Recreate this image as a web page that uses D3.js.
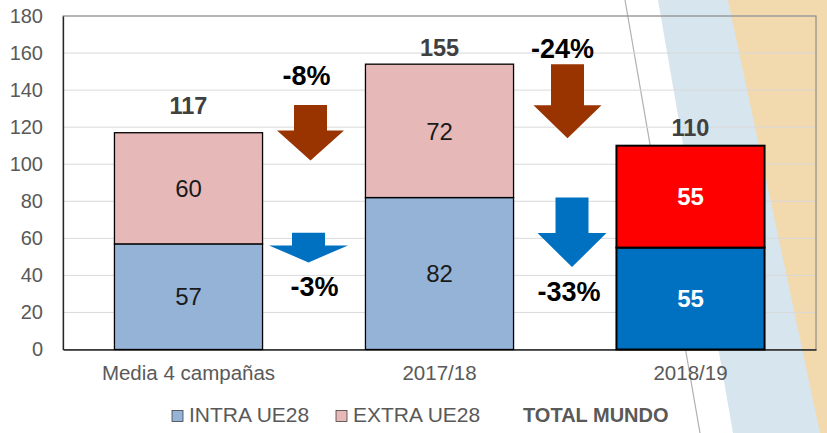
<!DOCTYPE html>
<html>
<head>
<meta charset="utf-8">
<script src="https://cdn.jsdelivr.net/npm/d3@7"></script>
<style>
  body { margin: 0; background: #fff; }
  svg { display: block; font-family: "Liberation Sans", Arial, sans-serif; }
</style>
</head>
<body>
<svg id="chart" width="827" height="433"></svg>
<script>
// data
const categories = ["Media 4 campañas", "2017/18", "2018/19"];
const intraValues = [57, 82, 55];
const extraValues = [60, 72, 55];
const totalValues = [117, 155, 110];
const yTicks = [0, 20, 40, 60, 80, 100, 120, 140, 160, 180];
const legendLabels = ["INTRA UE28", "EXTRA UE28", "TOTAL MUNDO"];

// change arrows between campaigns (values in chart units)
const changeLabels = ["-8%", "-3%", "-24%", "-33%"];
const changeFrom = [0, 0, 1, 1];
const changeSeries = ["extra", "intra", "extra", "intra"];
const changeTop = [132, 63, 154, 82];
const changeTip = [102, 47, 114, 44.5];

const svg = d3.select("#chart");
const width = 827, height = 433;
const margin = {left: 63, top: 16, right: 11, bottom: 83.5};
const FONT = "Liberation Sans, Arial, sans-serif";

// background decoration
svg.append("path")
    .attr("d", "M658,0 L733,433 L827,433 L827,0 Z")
    .attr("fill", "#d6e5ee");
svg.append("path")
    .attr("d", "M728,0 L820,433 L827,433 L827,0 Z")
    .attr("fill", "#f2d9ae");
svg.append("line")
    .attr("x1", 625).attr("y1", 0).attr("x2", 700).attr("y2", 433)
    .attr("stroke", "#b0b0b0").attr("stroke-width", 1.2);

const x = d3.scaleBand()
    .domain(categories)
    .range([margin.left, width - margin.right])
    .paddingInner(0.41)
    .paddingOuter(0.205);

const y = d3.scaleLinear()
    .domain([0, 180])
    .range([height - margin.bottom, margin.top]);

// grid
svg.append("g")
    .selectAll("line")
    .data(yTicks.slice(1))
    .join("line")
    .attr("x1", margin.left).attr("x2", width - margin.right)
    .attr("y1", d => y(d)).attr("y2", d => y(d))
    .attr("stroke", "#d9d9d9").attr("stroke-width", 1);

// frame
svg.append("rect")
    .attr("x", margin.left).attr("y", y(180))
    .attr("width", width - margin.right - margin.left)
    .attr("height", y(0) - y(180))
    .attr("fill", "none").attr("stroke", "#7f7f7f").attr("stroke-width", 1);

const yAxis = svg.append("g")
    .attr("transform", `translate(${margin.left},0)`)
    .call(d3.axisLeft(y).tickValues(yTicks).tickSize(0).tickPadding(20));
yAxis.select(".domain").attr("stroke", "#262626").attr("stroke-width", 1.3);
yAxis.selectAll("text").attr("font-size", 20).attr("fill", "#595959")
    .attr("font-family", FONT);

const xAxis = svg.append("g")
    .attr("transform", `translate(0,${y(0)})`)
    .call(d3.axisBottom(x).tickSize(0).tickPadding(15.5));
xAxis.select(".domain").attr("stroke", "#262626").attr("stroke-width", 1.3);
xAxis.selectAll("text").attr("font-size", 20.5).attr("fill", "#595959")
    .attr("font-family", FONT);

// bars
const rows = categories.map((c, i) => ({cat: c, intra: intraValues[i], extra: extraValues[i], total: totalValues[i], last: i === categories.length - 1}));

const bars = svg.append("g");
bars.selectAll("rect.intra")
    .data(rows)
    .join("rect")
    .attr("class", "intra")
    .attr("x", d => x(d.cat))
    .attr("width", x.bandwidth())
    .attr("y", d => y(d.intra))
    .attr("height", d => y(0) - y(d.intra))
    .attr("fill", d => d.last ? "#0070c0" : "#95b3d7")
    .attr("stroke", "#000")
    .attr("stroke-width", d => d.last ? 2 : 1.3);

bars.selectAll("rect.extra")
    .data(rows)
    .join("rect")
    .attr("class", "extra")
    .attr("x", d => x(d.cat))
    .attr("width", x.bandwidth())
    .attr("y", d => y(d.intra + d.extra))
    .attr("height", d => y(d.intra) - y(d.intra + d.extra))
    .attr("fill", d => d.last ? "#ff0000" : "#e6b9b8")
    .attr("stroke", "#000")
    .attr("stroke-width", d => d.last ? 2 : 1.3);

// segment labels
const labels = svg.append("g").attr("text-anchor", "middle");
labels.selectAll("text.intra")
    .data(rows)
    .join("text")
    .attr("x", d => x(d.cat) + x.bandwidth() / 2)
    .attr("y", d => y(d.intra / 2))
    .attr("dy", "0.36em")
    .attr("font-size", 24)
    .attr("font-weight", d => d.last ? "bold" : "normal")
    .attr("fill", d => d.last ? "#fff" : "#1a1a1a")
    .text(d => d.intra);
labels.selectAll("text.extra")
    .data(rows)
    .join("text")
    .attr("x", d => x(d.cat) + x.bandwidth() / 2)
    .attr("y", d => y(d.intra + d.extra / 2))
    .attr("dy", "0.36em")
    .attr("font-size", 24)
    .attr("font-weight", d => d.last ? "bold" : "normal")
    .attr("fill", d => d.last ? "#fff" : "#1a1a1a")
    .text(d => d.extra);

// total labels sit above each stack (offsets as in the original slide)
const totalGap = [19, 6, 10];
labels.selectAll("text.total")
    .data(rows)
    .join("text")
    .attr("x", d => x(d.cat) + x.bandwidth() / 2)
    .attr("y", (d, i) => y(d.total) - totalGap[i])
    .attr("font-size", 23.5)
    .attr("font-weight", "bold")
    .attr("fill", "#404040")
    .text(d => d.total);

// arrows
const arrowNudge = [-3.5, -5.5, 2.5, 7];
const headHalf = [33.5, 39.5, 34, 34.5];
const headLen = [30, 17, 33, 34];
const shaftHalf = 16.5;

const arrows = changeLabels.map((l, i) => {
    const left = x(categories[changeFrom[i]]) + x.bandwidth();
    const right = x(categories[changeFrom[i] + 1]);
    return {
        label: l,
        cx: (left + right) / 2 + arrowNudge[i],
        top: y(changeTop[i]),
        tip: y(changeTip[i]),
        head: headHalf[i],
        headH: headLen[i],
        series: changeSeries[i]
    };
});

const arrowPath = d => {
    const hy = d.tip - d.headH;
    return `M${d.cx - shaftHalf},${d.top} L${d.cx + shaftHalf},${d.top} L${d.cx + shaftHalf},${hy} L${d.cx + d.head},${hy} ` +
        `L${d.cx},${d.tip} L${d.cx - d.head},${hy} L${d.cx - shaftHalf},${hy} Z`;
};

const ann = svg.append("g");
ann.selectAll("path")
    .data(arrows)
    .join("path")
    .attr("d", arrowPath)
    .attr("fill", d => d.series === "extra" ? "#993300" : "#0070c0");

const labelShift = [-4, 6, -5, -3];
ann.selectAll("text")
    .data(arrows)
    .join("text")
    .attr("text-anchor", "middle")
    .attr("x", (d, i) => d.cx + labelShift[i])
    .attr("y", d => d.series === "extra" ? Math.max(d.top - 20, y(180) + 42) : d.tip + 34)
    .attr("font-size", 27)
    .attr("font-weight", "bold")
    .attr("fill", "#000")
    .text(d => d.label);

// legend
const legend = svg.append("g").attr("transform", "translate(0,422)");
const legendX = [172, 336, 523];
const legendColors = ["#95b3d7", "#e6b9b8", null];
legendLabels.forEach((l, i) => {
    if (legendColors[i]) {
        legend.append("rect")
            .attr("x", legendX[i]).attr("y", -11.5)
            .attr("width", 11).attr("height", 11)
            .attr("fill", legendColors[i])
            .attr("stroke", "#404040").attr("stroke-width", 0.8);
    }
    legend.append("text")
        .attr("x", legendColors[i] ? legendX[i] + 17 : legendX[i])
        .attr("y", 0)
        .attr("font-size", legendColors[i] ? 21 : 20)
        .attr("font-weight", legendColors[i] ? "normal" : "bold")
        .attr("fill", "#595959")
        .text(l);
});
</script>
</body>
</html>
